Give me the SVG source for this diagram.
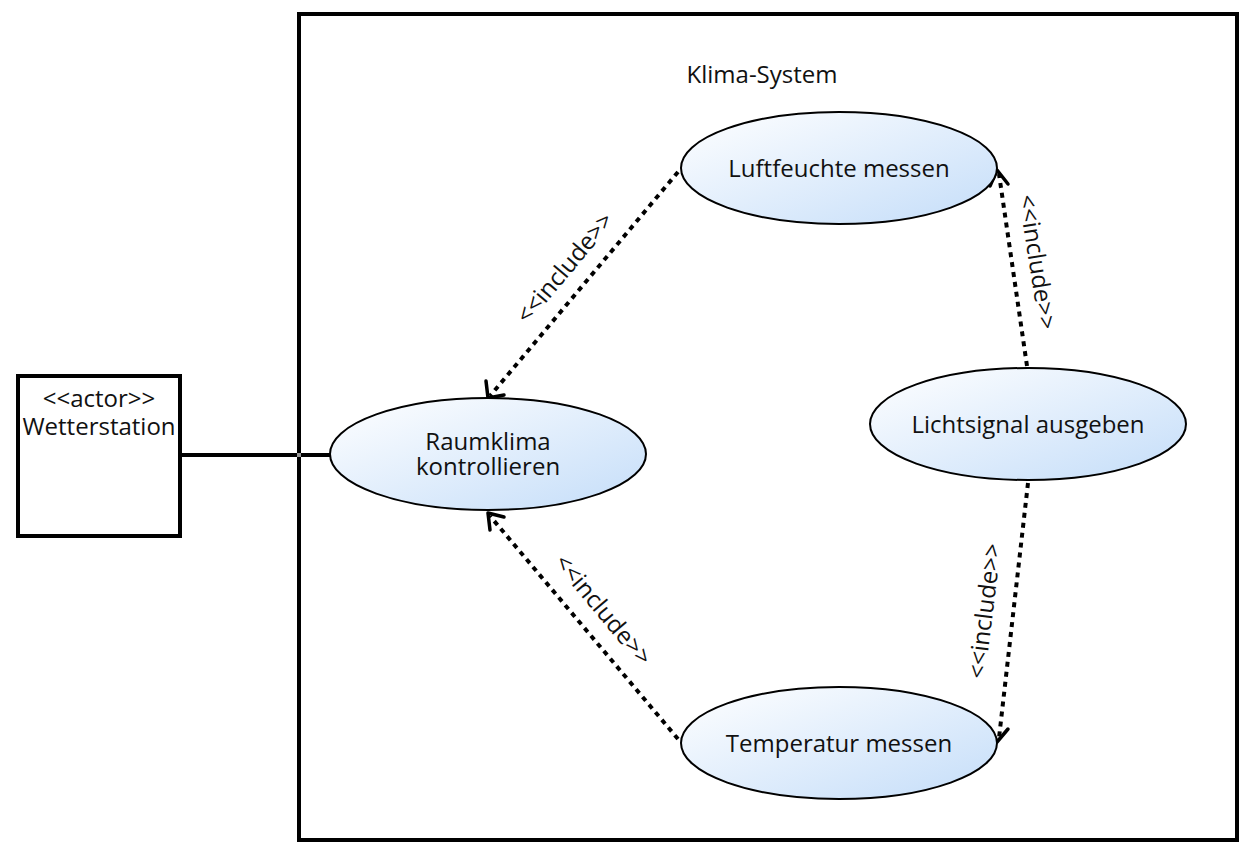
<svg xmlns="http://www.w3.org/2000/svg" width="1247" height="854" viewBox="0 0 1247 854">
<style>
.frame{fill:none;stroke:#000;stroke-width:4}
.uc{fill:url(#g);stroke:#000;stroke-width:2}
.t{font-family:"Open Sans","Noto Sans",sans-serif;font-size:24px;fill:#111;text-anchor:middle}
.lbl{font-family:"Open Sans","Noto Sans",sans-serif;font-size:24px;fill:#111;text-anchor:middle}
.dep{fill:none;stroke:#000;stroke-width:4;stroke-dasharray:5 5}
.ah{fill:none;stroke:#000;stroke-width:3.5;stroke-linecap:round;stroke-linejoin:round}
</style>
<defs>
<linearGradient id="g" x1="0" y1="0" x2="1" y2="1">
<stop offset="0" stop-color="#ffffff"/>
<stop offset="1" stop-color="#c4ddf9"/>
</linearGradient>
</defs>
<rect width="1247" height="854" fill="#fff"/>
<g id="system">
<rect class="frame" x="299" y="14" width="938" height="826"/>
<text class="t" x="762" y="83">Klima-System</text>
</g>
<g id="actor">
<rect class="frame" x="18" y="376" width="162" height="160"/>
<text class="t" x="99" y="407">&lt;&lt;actor&gt;&gt;</text>
<text class="t" x="99" y="435">Wetterstation</text>
</g>
<g id="connectors">
<line x1="181" y1="455" x2="330" y2="455" stroke="#000" stroke-width="4"/>
<line x1="297" y1="455" x2="301" y2="455" stroke="#999" stroke-width="4"/>
<line class="dep" x1="678" y1="172" x2="490" y2="396"/>
<path class="ah" d="M486 381 L488 398 L504 395"/>
<line class="dep" x1="1027" y1="366" x2="999" y2="174"/>
<path class="ah" d="M990 186 L997 170 L1008 184"/>
<line class="dep" x1="678" y1="739" x2="490" y2="516"/>
<path class="ah" d="M504 517 L488 513 L490 530"/>
<line class="dep" x1="1028" y1="483" x2="999" y2="738"/>
<path class="ah" d="M989 727 L997 742 L1008 729"/>
<text class="lbl" transform="translate(565,268) rotate(-50)" dy="8">&lt;&lt;include&gt;&gt;</text>
<text class="lbl" transform="translate(1037,262) rotate(81)" dy="8">&lt;&lt;include&gt;&gt;</text>
<text class="lbl" transform="translate(603,610) rotate(50)" dy="8">&lt;&lt;include&gt;&gt;</text>
<text class="lbl" transform="translate(985,611) rotate(-83)" dy="8">&lt;&lt;include&gt;&gt;</text>
</g>
<g id="uc-luft">
<ellipse class="uc" cx="839" cy="168" rx="158" ry="56"/>
<text class="t" x="839" y="177">Luftfeuchte messen</text>
</g>
<g id="uc-raum">
<ellipse class="uc" cx="488" cy="454" rx="158" ry="56"/>
<text class="t" x="488" y="450">Raumklima</text>
<text class="t" x="488" y="475">kontrollieren</text>
</g>
<g id="uc-licht">
<ellipse class="uc" cx="1028" cy="424" rx="158" ry="56"/>
<text class="t" x="1028" y="433">Lichtsignal ausgeben</text>
</g>
<g id="uc-temp">
<ellipse class="uc" cx="839" cy="743" rx="158" ry="56"/>
<text class="t" x="839" y="752">Temperatur messen</text>
</g>
</svg>
